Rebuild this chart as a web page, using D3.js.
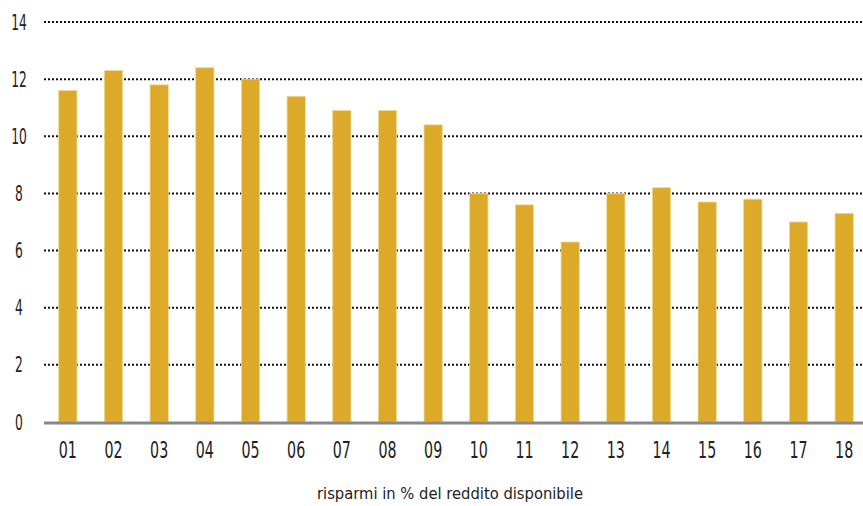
<!DOCTYPE html>
<html>
<head>
<meta charset="utf-8">
<script src="https://cdn.jsdelivr.net/npm/d3@7"></script>
<style>
  body { margin: 0; background: #fff; }
  text { font-family: "DejaVu Sans", sans-serif; fill: #222; }
</style>
</head>
<body>
<div id="chart"></div>
<script>
// Risparmi in % del reddito disponibile, 2001-2018
var years = ['01','02','03','04','05','06','07','08','09','10','11','12','13','14','15','16','17','18'];
var savings = [11.6, 12.3, 11.8, 12.4, 12.0, 11.4, 10.9, 10.9, 10.4, 8.0, 7.6, 6.3, 8.0, 8.2, 7.7, 7.8, 7.0, 7.3];
var yTicks = [0, 2, 4, 6, 8, 10, 12, 14];
var caption = 'risparmi in % del reddito disponibile';

var W = 863, H = 506;
var margin = {top: 22, right: 0, bottom: 84, left: 45};

var svg = d3.select('#chart').append('svg')
  .attr('width', W).attr('height', H);

var x = d3.scaleBand().domain(years)
  .range([margin.left, W + 4]).paddingInner(0.6).paddingOuter(0.3);
var y = d3.scaleLinear().domain([0, 14]).range([H - margin.bottom, margin.top]);

// dotted gridlines
svg.append('g').selectAll('line')
  .data(yTicks.filter(function(d) { return d > 0; }))
  .enter().append('line')
  .attr('x1', 44).attr('x2', W)
  .attr('y1', function(d) { return y(d); }).attr('y2', function(d) { return y(d); })
  .attr('stroke', '#111').attr('stroke-width', 2).attr('stroke-dasharray', '2,2');

// condensed look: squeeze glyphs horizontally
function narrow(cx, cy, sx) {
  return 'translate(' + cx + ',' + cy + ') scale(' + sx + ',1)';
}

// y labels
svg.append('g').selectAll('text')
  .data(yTicks).enter().append('text')
  .attr('transform', function(d) { return narrow(19, y(d) + 7.5, 0.6); })
  .attr('text-anchor', 'middle')
  .style('font-size', '20.5px')
  .text(function(d) { return d; });

// bars
svg.append('g').selectAll('rect')
  .data(savings).enter().append('rect')
  .attr('x', function(d, i) { return x(years[i]); })
  .attr('width', x.bandwidth())
  .attr('y', function(d) { return y(d); })
  .attr('height', function(d) { return y(0) - y(d); })
  .attr('fill', '#DCAA28')
  .attr('stroke', '#F0D890').attr('stroke-width', 0.8);

// baseline
svg.append('line')
  .attr('x1', 44).attr('x2', W)
  .attr('y1', y(0) + 1).attr('y2', y(0) + 1)
  .attr('stroke', '#888').attr('stroke-width', 3);

// x labels
svg.append('g').selectAll('text')
  .data(years).enter().append('text')
  .attr('transform', function(d) { return narrow(x(d) + x.bandwidth() / 2, 458, 0.62); })
  .attr('text-anchor', 'middle')
  .style('font-size', '23px')
  .text(function(d) { return d; });

svg.append('text')
  .attr('x', 450).attr('y', 499)
  .attr('text-anchor', 'middle')
  .attr('textLength', 266).attr('lengthAdjust', 'spacingAndGlyphs')
  .style('font-size', '16px')
  .text(caption);
</script>
</body>
</html>
